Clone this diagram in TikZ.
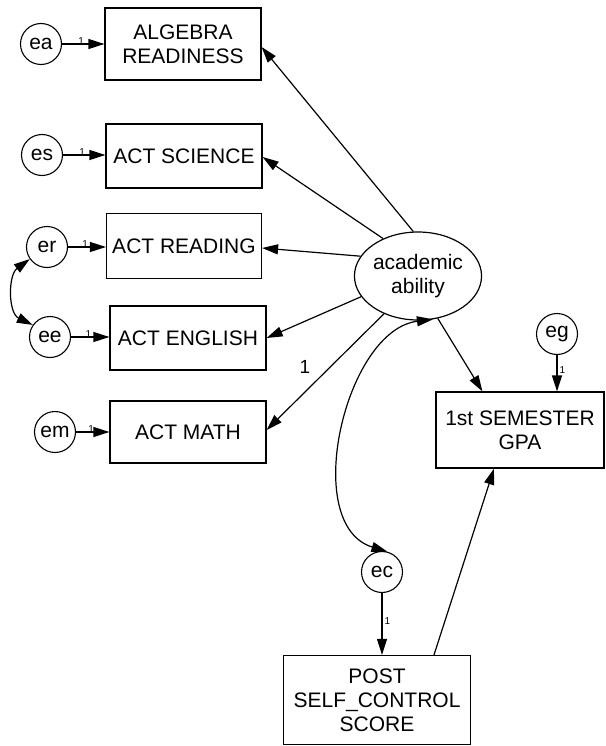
\documentclass[tikz,border=0pt]{standalone}
\usepackage{fontspec}
\setmainfont{Liberation Sans}
\usetikzlibrary{arrows.meta,shapes.geometric,calc}
\begin{document}
\begin{tikzpicture}[x=1pt,y=-1pt,
  every node/.style={inner sep=0pt},
  obs/.style={draw,line width=1.2pt,rectangle,align=center,font=\fontsize{21}{24}\selectfont},
  err/.style={draw,line width=1.1pt,circle,minimum size=41pt,font=\fontsize{21}{24}\selectfont},
  lat/.style={draw,line width=1.2pt,ellipse,minimum width=124pt,minimum height=88pt,align=center,font=\fontsize{21}{24}\selectfont},
  arr/.style={line width=1.2pt,-{Triangle[length=16pt,width=10pt]}},
  darr/.style={line width=1.2pt,{Triangle[length=16pt,width=10pt]}-{Triangle[length=16pt,width=10pt]}},
  one/.style={font=\fontsize{10}{12}\selectfont},
  bigone/.style={font=\fontsize{19}{22}\selectfont}]
\useasboundingbox (0,0) rectangle (605,746);

% observed variables
\node[obs,minimum width=156pt,minimum height=72pt] (alg) at (183,44) {ALGEBRA\\READINESS};
\node[obs,minimum width=156pt,minimum height=64pt] (sci) at (184,156) {ACT SCIENCE};
\node[obs,minimum width=155pt,minimum height=65pt] (rea) at (184,246) {ACT READING};
\node[obs,minimum width=156pt,minimum height=64pt] (eng) at (188,338) {ACT ENGLISH};
\node[obs,minimum width=156pt,minimum height=62pt] (math) at (188,432) {ACT MATH};
\node[obs,minimum width=168pt,minimum height=76pt] (gpa) at (520,430) {1st SEMESTER\\GPA};
\node[obs,minimum width=187pt,minimum height=89pt] (post) at (377,700) {POST\\SELF\_CONTROL\\SCORE};

% latent
\node[lat] (aa) at (418,276) {academic\\ability};

% errors
\node[err] (ea) at (41,44) {ea};
\node[err] (es) at (42,155) {es};
\node[err] (er) at (47,247) {er};
\node[err] (ee) at (50,337) {ee};
\node[err] (em) at (55,432) {em};
\node[err] (eg) at (557,334) {eg};
\node[err] (ec) at (382,572) {ec};

% error paths
\draw[arr] (ea) -- node[one,above,pos=0.45,yshift=-1pt] {1} (ea -| alg.west);
\draw[arr] (es) -- node[one,above,pos=0.45,yshift=-1pt] {1} (es -| sci.west);
\draw[arr] (er) -- node[one,above,pos=0.45,yshift=-1pt] {1} (er -| rea.west);
\draw[arr] (ee) -- node[one,above,pos=0.45,yshift=-1pt] {1} (ee -| eng.west);
\draw[arr] (em) -- node[one,above,pos=0.45,yshift=-1pt] {1} (em -| math.west);
\draw[arr] (eg) -- node[one,right,pos=0.4,xshift=2pt] {1} (eg |- gpa.north);
\draw[arr] (ec) -- node[one,right,pos=0.45,xshift=2pt] {1} (ec |- post.north);

% loadings
\draw[arr] (aa.96) -- ($(alg.east)+(0,3)$);
\draw[arr] (aa.133) -- ($(sci.east)+(0,1)$);
\draw[arr] (aa.161) -- ($(rea.east)+(0,2)$);
\draw[arr] (aa.200) -- (eng.east);
\draw[arr] (aa.228) -- ($(math.east)+(0,-2)$);
\node[bigone] (lone) at (305,367) {1};

% structural paths
\draw[arr] (aa.295) -- ($(gpa.north west)+(47,0)$);
\draw[arr] ($(post.north)+(57,0)$) -- ($(gpa.south)+(-26,0)$);

% covariances
\draw[darr] (er.215) .. controls (8,275) and (8,313) .. (ee.145);
\draw[darr] (aa.289) .. controls (345,330) and (300,525) .. (ec.75);
\end{tikzpicture}
\end{document}
